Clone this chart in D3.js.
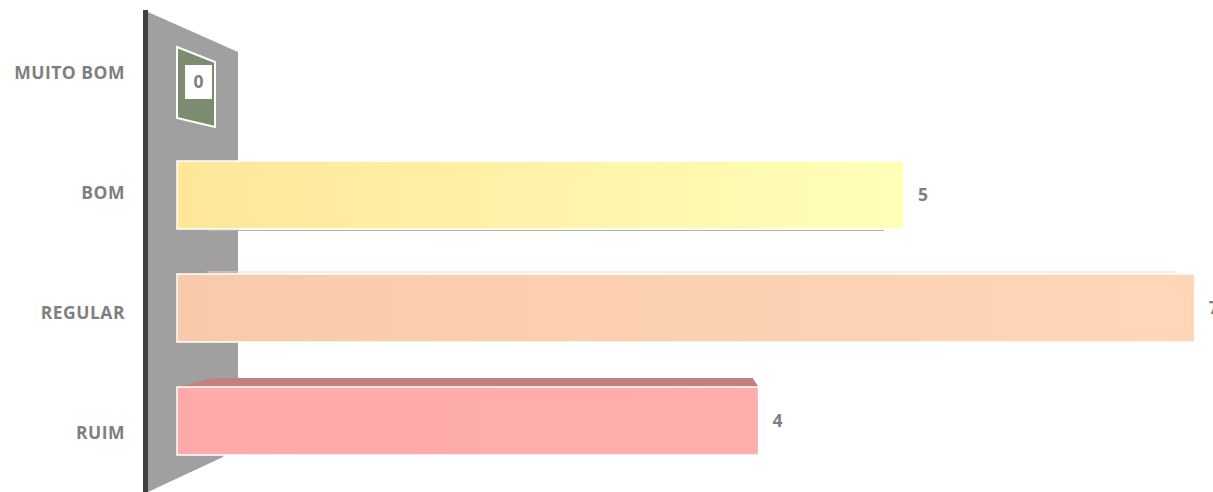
<!DOCTYPE html>
<html>
<head>
<meta charset="utf-8">
<script src="https://cdn.jsdelivr.net/npm/d3@7"></script>
<style>
  body { margin: 0; background: #fff; }
  svg { display: block; }
  text { font-family: "Open Sans", sans-serif; font-weight: bold; fill: #7f7f7f; }
</style>
</head>
<body>
<svg id="chart" width="1213" height="492"></svg>
<script>
var categories = ["MUITO BOM", "BOM", "REGULAR", "RUIM"];
var values = [0, 5, 7, 4];
var colorsLeft = ["#7d8c6e", "#ffe699", "#f8caab", "#ffaaaa"];
var colorsRight = ["#7d8c6e", "#ffffb8", "#ffd6b8", "#ffadad"];

var svg = d3.select("#chart");

var x = d3.scaleLinear().domain([0, 5]).range([177, 904]);
var y = d3.scaleBand().domain(categories).range([48, 455]).paddingInner(0.398).paddingOuter(0);
var yLabel = d3.scalePoint().domain(categories).range([73, 433]);

var data = categories.map(function(c, i) { return { name: c, value: values[i], i: i }; });

// gradients
var defs = svg.append("defs");
data.forEach(function(d) {
  var g = defs.append("linearGradient").attr("id", "grad" + d.i)
    .attr("x1", "0%").attr("x2", "100%").attr("y1", "0%").attr("y2", "0%");
  g.append("stop").attr("offset", "0%").attr("stop-color", colorsLeft[d.i]);
  g.append("stop").attr("offset", "100%").attr("stop-color", colorsRight[d.i]);
});

// back wall
var wall = [[148, 12], [238, 52], [238, 400], [223, 457], [148, 492]];
svg.append("polygon")
  .attr("points", wall.map(function(p) { return p.join(","); }).join(" "))
  .attr("fill", "#a0a0a0");
svg.append("rect")
  .attr("x", 143).attr("y", 10).attr("width", 5).attr("height", 482)
  .attr("fill", "#404040");

// category labels
svg.selectAll(".cat")
  .data(data)
  .enter().append("text")
  .attr("class", "cat")
  .attr("x", 125)
  .attr("y", function(d) { return yLabel(d.name); })
  .attr("dy", "0.35em")
  .attr("text-anchor", "end")
  .attr("font-size", 17.5)
  .attr("letter-spacing", 0.5)
  .text(function(d) { return d.name; });

var bars = data.filter(function(d) { return d.value > 0; });

// faint top/bottom edges for the bars
svg.selectAll(".edge")
  .data(bars.filter(function(d) { return d.name != "RUIM"; }))
  .enter().append("line")
  .attr("x1", x(0) + 30)
  .attr("x2", function(d) { return x(d.value) - 20; })
  .attr("y1", function(d) { return d.name == "BOM" ? y(d.name) + y.bandwidth() + 1.5 : y(d.name) - 2; })
  .attr("y2", function(d) { return d.name == "BOM" ? y(d.name) + y.bandwidth() + 1.5 : y(d.name) - 2; })
  .attr("stroke", function(d) { return d.name == "BOM" ? "#b8b0a0" : "#f0d8c8"; })
  .attr("stroke-width", 1.2);

// top face of RUIM
svg.selectAll(".top")
  .data(bars.filter(function(d) { return d.name == "RUIM"; }))
  .enter().append("polygon")
  .attr("points", function(d) {
    var y0 = y(d.name), x0 = x(0), x1 = x(d.value);
    return [[x0, y0], [x0 + 35, y0 - 9], [x1 - 6, y0 - 9], [x1, y0]].map(function(p) { return p.join(","); }).join(" ");
  })
  .attr("fill", "#c47f7f");

// front faces
svg.selectAll(".bar")
  .data(bars)
  .enter().append("rect")
  .attr("class", "bar")
  .attr("x", x(0))
  .attr("y", function(d) { return y(d.name); })
  .attr("width", function(d) { return x(d.value) - x(0); })
  .attr("height", y.bandwidth())
  .attr("fill", function(d) { return "url(#grad" + d.i + ")"; })
  .attr("stroke", "#ffffff")
  .attr("stroke-width", 1.5);

// zero bar drawn as a small perspective quad
var zero = data.filter(function(d) { return d.value == 0; });
svg.selectAll(".zero")
  .data(zero)
  .enter().append("polygon")
  .attr("points", function(d) {
    var y0 = y(d.name), x0 = x(d.value);
    return [[x0, y0 - 1], [x0 + 38, y0 + 14], [x0 + 38, y0 + 79], [x0, y0 + 70]].map(function(p) { return p.join(","); }).join(" ");
  })
  .attr("fill", "#7d8c6e")
  .attr("stroke", "#ffffff")
  .attr("stroke-width", 2);
svg.selectAll(".zerobox")
  .data(zero)
  .enter().append("rect")
  .attr("x", x(0) + 8)
  .attr("y", function(d) { return y(d.name) + 17; })
  .attr("width", 27).attr("height", 34)
  .attr("fill", "#ffffff");

// value labels
svg.selectAll(".val")
  .data(data)
  .enter().append("text")
  .attr("class", "val")
  .attr("x", function(d) { return d.value == 0 ? x(0) + 21.5 : x(d.value) + 14; })
  .attr("y", function(d) { return d.value == 0 ? y(d.name) + 34 : y(d.name) + y.bandwidth() / 2; })
  .attr("dy", "0.35em")
  .attr("text-anchor", function(d) { return d.value == 0 ? "middle" : "start"; })
  .attr("font-size", 17.5)
  .text(function(d) { return d.value; });
</script>
</body>
</html>
